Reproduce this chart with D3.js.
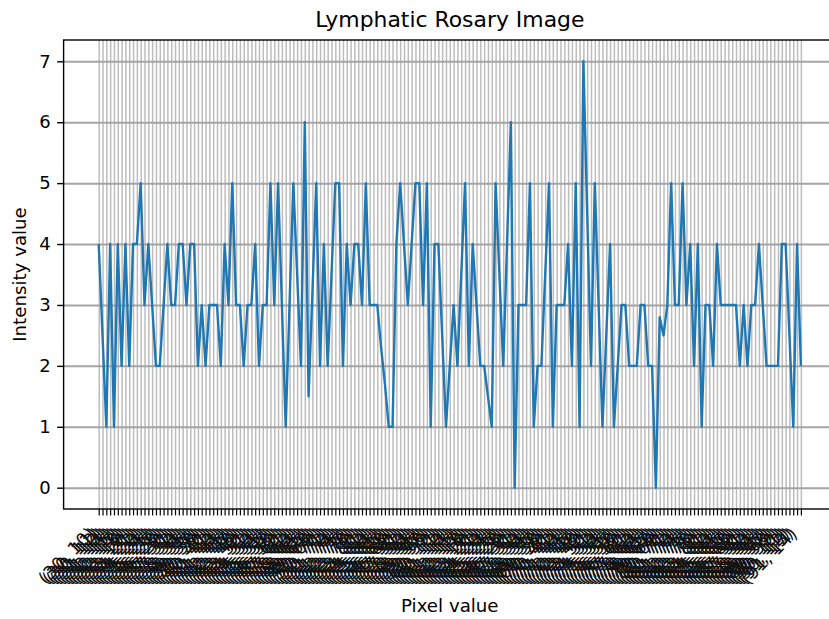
<!DOCTYPE html>
<html>
<head>
<meta charset="utf-8">
<script src="https://cdn.jsdelivr.net/npm/d3@7"></script>
<style>
  body { margin: 0; background: #fff; }
  svg { display: block; font-family: "DejaVu Sans", sans-serif; }
</style>
</head>
<body>
<div id="chart"></div>
<script>
// Intensity profile along the traced pixels
var intensity = [
  4, 2.5, 1, 4, 1, 4, 2, 4, 2, 4,
  4, 5, 3, 4, 3, 2, 2, 3, 4, 3,
  3, 4, 4, 3, 4, 4, 2, 3, 2, 3,
  3, 3, 2, 4, 3, 5, 3, 3, 2, 3,
  3, 4, 2, 3, 3, 5, 3, 5, 3, 1,
  3, 5, 3.5, 2, 6, 1.5, 3.2, 5, 2, 4,
  2, 3.5, 5, 5, 2, 4, 3, 4, 4, 3,
  5, 3, 3, 3, 2.3, 1.7, 1, 1, 4, 5,
  4, 3, 4, 5, 5, 3, 5, 1, 4, 4,
  2.5, 1, 2, 3, 2, 3.5, 5, 2, 4, 3,
  2, 2, 1.5, 1, 5, 3.5, 2, 4, 6, 0,
  3, 3, 3, 5, 1, 2, 2, 3.5, 5, 1,
  3, 3, 3, 4, 2, 5, 1, 7, 4.5, 2,
  5, 3, 1, 2.5, 4, 1, 2, 3, 3, 2,
  2, 2, 3, 3, 2, 2, 0, 2.8, 2.5, 3,
  5, 3, 3, 5, 3, 4, 2, 4, 1, 3,
  3, 2, 4, 3, 3, 3, 3, 3, 2, 3,
  2, 3, 3, 4, 3, 2, 2, 2, 2, 4,
  4, 2.5, 1, 4, 2
];

// x tick labels (pixel coordinates, illegible in the reference - estimated)
var pixelLabels = [
  "(30, 10)","(30, 11)","(30, 12)","(31, 13)","(31, 14)","(31, 15)","(32, 16)","(32, 17)","(32, 18)","(33, 19)",
  "(33, 20)","(33, 21)","(34, 22)","(34, 23)","(34, 24)","(35, 25)","(35, 26)","(35, 27)","(36, 28)","(36, 29)",
  "(36, 30)","(37, 31)","(37, 32)","(37, 33)","(38, 34)","(38, 35)","(38, 36)","(39, 37)","(39, 38)","(39, 39)",
  "(40, 40)","(40, 41)","(40, 42)","(41, 43)","(41, 44)","(41, 45)","(42, 46)","(42, 47)","(42, 48)","(43, 49)",
  "(43, 50)","(43, 51)","(44, 52)","(44, 53)","(44, 54)","(45, 55)","(45, 56)","(45, 57)","(46, 58)","(46, 59)",
  "(46, 60)","(47, 61)","(47, 62)","(47, 63)","(48, 64)","(48, 65)","(48, 66)","(49, 67)","(49, 68)","(49, 69)",
  "(50, 70)","(50, 71)","(50, 72)","(51, 73)","(51, 74)","(51, 75)","(52, 76)","(52, 77)","(52, 78)","(53, 79)",
  "(53, 80)","(53, 81)","(54, 82)","(54, 83)","(54, 84)","(55, 85)","(55, 86)","(55, 87)","(56, 88)","(56, 89)",
  "(56, 90)","(57, 91)","(57, 92)","(57, 93)","(58, 94)","(58, 95)","(58, 96)","(59, 97)","(59, 98)","(59, 99)",
  "(60, 10)","(60, 11)","(60, 12)","(61, 13)","(61, 14)","(61, 15)","(62, 16)","(62, 17)","(62, 18)","(63, 19)",
  "(63, 20)","(63, 21)","(64, 22)","(64, 23)","(64, 24)","(65, 25)","(65, 26)","(65, 27)","(66, 28)","(66, 29)",
  "(66, 30)","(67, 31)","(67, 32)","(67, 33)","(68, 34)","(68, 35)","(68, 36)","(69, 37)","(69, 38)","(69, 39)",
  "(70, 40)","(70, 41)","(70, 42)","(71, 43)","(71, 44)","(71, 45)","(72, 46)","(72, 47)","(72, 48)","(73, 49)",
  "(73, 50)","(73, 51)","(74, 52)","(74, 53)","(74, 54)","(75, 55)","(75, 56)","(75, 57)","(76, 58)","(76, 59)",
  "(76, 60)","(77, 61)","(77, 62)","(77, 63)","(78, 64)","(78, 65)","(78, 66)","(79, 67)","(79, 68)","(79, 69)",
  "(80, 70)","(80, 71)","(80, 72)","(81, 73)","(81, 74)","(81, 75)","(82, 76)","(82, 77)","(82, 78)","(83, 79)",
  "(83, 80)","(83, 81)","(84, 82)","(84, 83)","(84, 84)","(85, 85)","(85, 86)","(85, 87)","(86, 88)","(86, 89)",
  "(86, 90)","(87, 91)","(87, 92)","(87, 93)","(88, 94)","(88, 95)","(88, 96)","(89, 97)","(89, 98)","(89, 99)",
  "(90, 10)","(90, 11)","(90, 12)","(91, 13)","(91, 14)"
];

var yTicks = [0, 1, 2, 3, 4, 5, 6, 7];

var titleText = "Lymphatic Rosary Image";
var xLabelText = "Pixel value";
var yLabelText = "Intensity value";

// SVG area
var svgWidth = 829;
var svgHeight = 619;

// axes box (right edge falls outside the picture, as in the reference)
var axLeft = 63.6, axRight = 836, axTop = 40, axBottom = 509;

var n = intensity.length;
var pad = (n - 1) * 0.05;

var xScale = d3.scaleLinear()
  .domain([-pad, n - 1 + pad])
  .range([axLeft, axRight]);

var yScale = d3.scaleLinear()
  .domain([-0.35, 7.35])
  .range([axBottom, axTop]);

var svg = d3.select("#chart")
  .append("svg")
  .attr("width", svgWidth)
  .attr("height", svgHeight);

svg.append("rect")
  .attr("width", svgWidth)
  .attr("height", svgHeight)
  .attr("fill", "#fff");

// vertical grid, one line per tick
svg.append("g")
  .attr("transform", "translate(0," + axBottom + ")")
  .call(d3.axisBottom(xScale)
    .tickValues(d3.range(n))
    .tickSize(-(axBottom - axTop))
    .tickFormat(""))
  .call(g => g.select(".domain").remove())
  .call(g => g.selectAll("line")
    .attr("stroke", "#bdbdbd")
    .attr("stroke-width", 1.5));

// horizontal grid
svg.append("g")
  .attr("transform", "translate(" + axLeft + ",0)")
  .call(d3.axisLeft(yScale)
    .tickValues(yTicks)
    .tickSize(-(axRight - axLeft))
    .tickFormat(""))
  .call(g => g.select(".domain").remove())
  .call(g => g.selectAll("line")
    .attr("stroke", "#a4a4a4")
    .attr("stroke-width", 2));

// the line
var line = d3.line()
  .x((d, i) => xScale(i))
  .y(d => yScale(d));

svg.append("path")
  .datum(intensity)
  .attr("fill", "none")
  .attr("stroke", "#1f77b4")
  .attr("stroke-width", 2.4)
  .attr("stroke-linejoin", "round")
  .attr("d", line);

// spines
svg.append("rect")
  .attr("x", axLeft)
  .attr("y", axTop)
  .attr("width", axRight - axLeft)
  .attr("height", axBottom - axTop)
  .attr("fill", "none")
  .attr("stroke", "#000")
  .attr("stroke-width", 1.4);

// x axis ticks with rotated labels
var xAxisG = svg.append("g")
  .attr("transform", "translate(0," + axBottom + ")")
  .call(d3.axisBottom(xScale)
    .tickValues(d3.range(n))
    .tickSize(6.4)
    .tickFormat(i => pixelLabels[i]));
xAxisG.select(".domain").remove();
xAxisG.selectAll("line").attr("stroke", "#000").attr("stroke-width", 1.2);
xAxisG.selectAll("text")
  .attr("fill", "#111")
  .attr("font-size", 18)
  .attr("font-family", "DejaVu Sans")
  .attr("text-anchor", "end")
  .attr("dy", null)
  .attr("y", null)
  .attr("transform", "translate(-3,26) rotate(-45)");

// y axis
var yAxisG = svg.append("g")
  .attr("transform", "translate(" + axLeft + ",0)")
  .call(d3.axisLeft(yScale)
    .tickValues(yTicks)
    .tickSize(6.4)
    .tickPadding(6.4));
yAxisG.select(".domain").remove();
yAxisG.selectAll("line").attr("stroke", "#000").attr("stroke-width", 1.4);
yAxisG.selectAll("text")
  .attr("fill", "#000")
  .attr("font-size", 18)
  .attr("font-family", "DejaVu Sans");

// title and axis labels
svg.append("text")
  .attr("x", (axLeft + axRight) / 2)
  .attr("y", 27)
  .attr("text-anchor", "middle")
  .attr("font-size", 21.9)
  .attr("fill", "#000")
  .text(titleText);

svg.append("text")
  .attr("x", (axLeft + axRight) / 2)
  .attr("y", 612)
  .attr("text-anchor", "middle")
  .attr("font-size", 18.2)
  .attr("fill", "#000")
  .text(xLabelText);

svg.append("text")
  .attr("transform", "translate(26," + (axTop + axBottom) / 2 + ") rotate(-90)")
  .attr("text-anchor", "middle")
  .attr("font-size", 18.2)
  .attr("fill", "#000")
  .text(yLabelText);
</script>
</body>
</html>
